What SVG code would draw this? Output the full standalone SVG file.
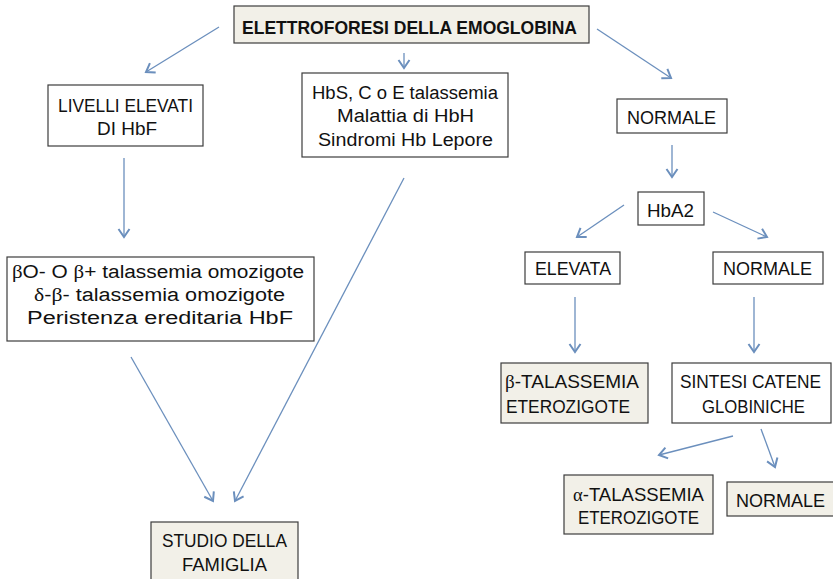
<svg xmlns="http://www.w3.org/2000/svg" width="833" height="579" viewBox="0 0 833 579">
<style>
  .box { fill: #ffffff; stroke: #3c3c3c; stroke-width: 1.2; }
  .beige { fill: #f2f0e8; stroke: #3c3c3c; stroke-width: 1.2; }
  .t { font-family: "Liberation Sans", Arial, sans-serif; font-size: 18px; fill: #111111; }
  .b { font-weight: bold; font-size: 17.5px; }
  .g { font-family: "Liberation Serif", "Times New Roman", serif; }
  .c { stroke: #6b8fbd; stroke-width: 1.3; fill: none; marker-end: url(#ah); }
</style>
<defs>
  <marker id="ah" markerUnits="userSpaceOnUse" markerWidth="14" markerHeight="14" refX="11" refY="7" orient="auto">
    <path d="M3,1.5 L11,7 L3,12.5" fill="none" stroke="#6b8fbd" stroke-width="2"/>
  </marker>
</defs>
<rect width="833" height="579" fill="#ffffff"/>

<g id="connectors">
  <line class="c" x1="219" y1="27" x2="146" y2="72"/>
  <line class="c" x1="404" y1="53" x2="404" y2="68"/>
  <line class="c" x1="597" y1="29" x2="671" y2="78"/>
  <line class="c" x1="124" y1="158" x2="124" y2="237"/>
  <line class="c" x1="672" y1="145" x2="672" y2="177"/>
  <line class="c" x1="624" y1="205" x2="577" y2="237"/>
  <line class="c" x1="713" y1="212" x2="767" y2="237"/>
  <line class="c" x1="575" y1="297" x2="575" y2="352"/>
  <line class="c" x1="754" y1="297" x2="754" y2="352"/>
  <line class="c" x1="131" y1="357" x2="213" y2="501"/>
  <line class="c" x1="404" y1="178" x2="235" y2="501"/>
  <line class="c" x1="733" y1="436" x2="659" y2="455"/>
  <line class="c" x1="761" y1="429" x2="775" y2="467"/>
</g>

<g id="elettroforesi">
  <rect class="beige" x="234" y="6" width="355" height="37"/>
  <text class="t b" x="242" y="34" textLength="335" lengthAdjust="spacingAndGlyphs">ELETTROFORESI DELLA EMOGLOBINA</text>
</g>

<g id="livelli">
  <rect class="box" x="48" y="85" width="155" height="61"/>
  <text class="t" x="58" y="112" textLength="135" lengthAdjust="spacingAndGlyphs">LIVELLI ELEVATI</text>
  <text class="t" x="97" y="135" textLength="60" lengthAdjust="spacingAndGlyphs">DI HbF</text>
</g>

<g id="hbs">
  <rect class="box" x="302" y="73" width="206" height="84"/>
  <text class="t" x="312" y="99" textLength="186" lengthAdjust="spacingAndGlyphs">HbS, C o E talassemia</text>
  <text class="t" x="337" y="122" textLength="137" lengthAdjust="spacingAndGlyphs">Malattia di HbH</text>
  <text class="t" x="318" y="146" textLength="175" lengthAdjust="spacingAndGlyphs">Sindromi Hb Lepore</text>
</g>

<g id="normale1">
  <rect class="box" x="617" y="99" width="110" height="34"/>
  <text class="t" x="627" y="124" textLength="89" lengthAdjust="spacingAndGlyphs">NORMALE</text>
</g>

<g id="hba2">
  <rect class="box" x="638" y="192" width="66" height="33"/>
  <text class="t" x="647" y="217" textLength="47" lengthAdjust="spacingAndGlyphs">HbA2</text>
</g>

<g id="elevata">
  <rect class="box" x="525" y="252" width="95" height="32"/>
  <text class="t" x="535" y="275" textLength="76" lengthAdjust="spacingAndGlyphs">ELEVATA</text>
</g>

<g id="normale2">
  <rect class="box" x="713" y="252" width="110" height="32"/>
  <text class="t" x="723" y="275" textLength="89" lengthAdjust="spacingAndGlyphs">NORMALE</text>
</g>

<g id="omozigote">
  <rect class="box" x="7" y="257" width="307" height="84"/>
  <text class="t" x="12" y="278" textLength="292" lengthAdjust="spacingAndGlyphs"><tspan class="g">β</tspan>O- O <tspan class="g">β</tspan>+ talassemia omozigote</text>
  <text class="t" x="34" y="301" textLength="251" lengthAdjust="spacingAndGlyphs"><tspan class="g">δ</tspan>-<tspan class="g">β</tspan>- talassemia omozigote</text>
  <text class="t" x="27" y="324" textLength="266" lengthAdjust="spacingAndGlyphs">Peristenza ereditaria HbF</text>
</g>

<g id="beta-tal">
  <rect class="beige" x="501" y="363" width="147" height="60"/>
  <text class="t" x="505" y="388" textLength="134" lengthAdjust="spacingAndGlyphs"><tspan class="g">β</tspan>-TALASSEMIA</text>
  <text class="t" x="506" y="413" textLength="124" lengthAdjust="spacingAndGlyphs">ETEROZIGOTE</text>
</g>

<g id="sintesi">
  <rect class="box" x="672" y="363" width="159" height="60"/>
  <text class="t" x="680" y="388" textLength="141" lengthAdjust="spacingAndGlyphs">SINTESI CATENE</text>
  <text class="t" x="702" y="413" textLength="103" lengthAdjust="spacingAndGlyphs">GLOBINICHE</text>
</g>

<g id="alfa-tal">
  <rect class="beige" x="564" y="475" width="149" height="59"/>
  <text class="t" x="573" y="501" textLength="131" lengthAdjust="spacingAndGlyphs"><tspan class="g">α</tspan>-TALASSEMIA</text>
  <text class="t" x="578" y="524" textLength="121" lengthAdjust="spacingAndGlyphs">ETEROZIGOTE</text>
</g>

<g id="normale3">
  <rect class="beige" x="727" y="482" width="110" height="34"/>
  <text class="t" x="736" y="507" textLength="89" lengthAdjust="spacingAndGlyphs">NORMALE</text>
</g>

<g id="studio">
  <rect class="beige" x="151" y="522" width="147" height="64"/>
  <text class="t" x="162" y="547" textLength="125" lengthAdjust="spacingAndGlyphs">STUDIO DELLA</text>
  <text class="t" x="182" y="571" textLength="85" lengthAdjust="spacingAndGlyphs">FAMIGLIA</text>
</g>
</svg>
